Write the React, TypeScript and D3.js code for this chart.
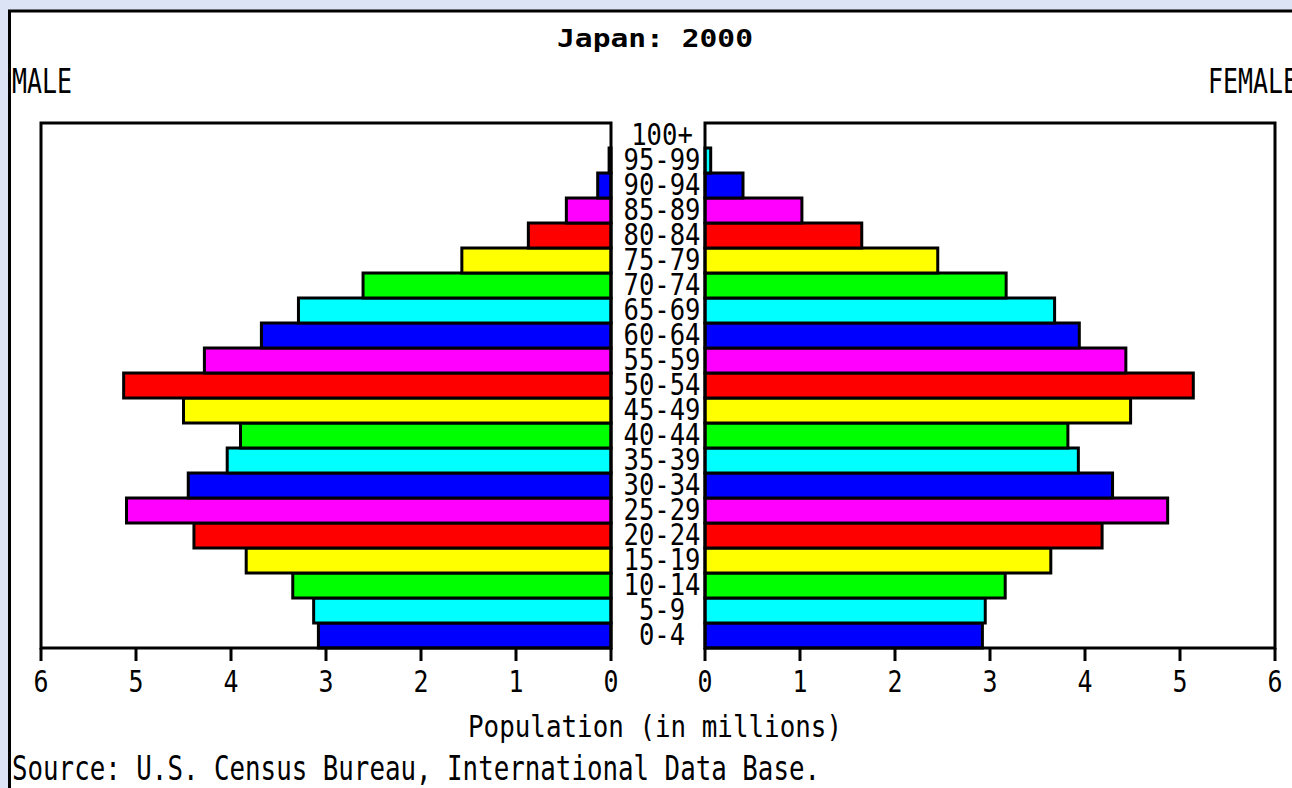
import React from "react";
import * as d3 from "d3";

const ageGroups = ["0-4","5-9","10-14","15-19","20-24","25-29","30-34","35-39","40-44","45-49","50-54","55-59","60-64","65-69","70-74","75-79","80-84","85-89","90-94","95-99","100+"];
const maleValues = [3.08,3.13,3.35,3.84,4.39,5.10,4.45,4.04,3.90,4.50,5.13,4.28,3.68,3.29,2.61,1.57,0.87,0.47,0.14,0.02,0];
const femaleValues = [2.92,2.95,3.16,3.64,4.18,4.87,4.29,3.93,3.82,4.48,5.14,4.43,3.94,3.68,3.17,2.45,1.65,1.02,0.40,0.06,0];
const tickValues = [0,1,2,3,4,5,6];
const barColors = ["#0000ff","#00ffff","#00ff00","#ffff00","#ff0000","#ff00ff"];

const titleText = "Japan: 2000";
const leftLabel = "MALE";
const rightLabel = "FEMALE";
const axisTitle = "Population (in millions)";
const sourceText = "Source: U.S. Census Bureau, International Data Base.";

const MONO = "'DejaVu Sans Mono', 'Liberation Mono', monospace";

export default function App() {
  const W = 1292, H = 788;
  const top = 123, bottom = 648;
  const xMale = d3.scaleLinear().domain([0, 6]).range([611, 41]);
  const xFemale = d3.scaleLinear().domain([0, 6]).range([705, 1275]);
  const y = d3.scaleBand().domain([...ageGroups].reverse()).range([top, bottom]).paddingInner(0).paddingOuter(0);
  const bw = y.bandwidth();
  const labelX = (xMale(0) + xFemale(0)) / 2 + 4;

  return (
    <svg width={W} height={H} style={{ position: "absolute", left: 0, top: 0, display: "block" }}>
      <rect x={0} y={0} width={W} height={H} fill="#dce3f5" />
      <rect x={9.5} y={11} width={1400} height={900} fill="#ffffff" stroke="#000" strokeWidth={3} />

      <text x={655} y={47} textAnchor="middle" fontFamily={MONO} fontWeight="bold" fontSize={25}
        textLength={196} lengthAdjust="spacingAndGlyphs">{titleText}</text>
      <text x={12} y={93} fontFamily={MONO} fontSize={33} textLength={60} lengthAdjust="spacingAndGlyphs">{leftLabel}</text>
      <text x={1208} y={93} fontFamily={MONO} fontSize={33} textLength={90} lengthAdjust="spacingAndGlyphs">{rightLabel}</text>

      {/* plot boxes */}
      <rect x={xMale(6)} y={top} width={xMale(0) - xMale(6)} height={bottom - top} fill="#fff" />
      <rect x={xFemale(0)} y={top} width={xFemale(6) - xFemale(0)} height={bottom - top} fill="#fff" />

      {ageGroups.map((a, i) => {
        const v = maleValues[i];
        if (v <= 0) return null;
        return <rect key={"m" + a} x={xMale(v)} y={y(a)} width={xMale(0) - xMale(v)} height={bw}
          fill={barColors[i % 6]} stroke="#000" strokeWidth={3} />;
      })}
      {ageGroups.map((a, i) => {
        const v = femaleValues[i];
        if (v <= 0) return null;
        return <rect key={"f" + a} x={xFemale(0)} y={y(a)} width={xFemale(v) - xFemale(0)} height={bw}
          fill={barColors[i % 6]} stroke="#000" strokeWidth={3} />;
      })}

      <rect x={xMale(6)} y={top} width={xMale(0) - xMale(6)} height={bottom - top} fill="none" stroke="#000" strokeWidth={3} />
      <rect x={xFemale(0)} y={top} width={xFemale(6) - xFemale(0)} height={bottom - top} fill="none" stroke="#000" strokeWidth={3} />

      {/* ticks */}
      {tickValues.map(t => (
        <g key={"tm" + t}>
          <line x1={xMale(t)} x2={xMale(t)} y1={bottom} y2={661} stroke="#000" strokeWidth={3} />
          <text x={xMale(t)} y={692} textAnchor="middle" fontFamily={MONO} fontSize={30}
            textLength={15} lengthAdjust="spacingAndGlyphs">{String(t)}</text>
        </g>
      ))}
      {tickValues.map(t => (
        <g key={"tf" + t}>
          <line x1={xFemale(t)} x2={xFemale(t)} y1={bottom} y2={661} stroke="#000" strokeWidth={3} />
          <text x={xFemale(t)} y={692} textAnchor="middle" fontFamily={MONO} fontSize={30}
            textLength={15} lengthAdjust="spacingAndGlyphs">{String(t)}</text>
        </g>
      ))}

      {/* age labels */}
      {ageGroups.map(a => (
        <text key={"l" + a} x={labelX} y={(y(a) as number) + bw - 3} textAnchor="middle" fontFamily={MONO}
          fontSize={30} textLength={a.length * 15.4} lengthAdjust="spacingAndGlyphs">{a}</text>
      ))}

      <text x={655} y={737} textAnchor="middle" fontFamily={MONO} fontSize={30}
        textLength={374} lengthAdjust="spacingAndGlyphs">{axisTitle}</text>
      <text x={12} y={780} fontFamily={MONO} fontSize={33}
        textLength={808} lengthAdjust="spacingAndGlyphs">{sourceText}</text>
    </svg>
  );
}
